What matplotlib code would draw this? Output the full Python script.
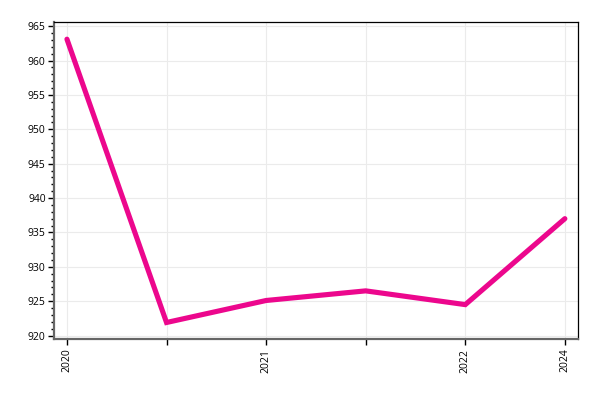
import numpy as np
import matplotlib.pyplot as plt
from matplotlib.ticker import MultipleLocator

plt.rcParams['font.family'] = ['Open Sans', 'DejaVu Sans']

# data
x_labels = ['2020', '', '2021', '', '2022', '2024']
values = [963.1, 921.9, 925.1, 926.5, 924.5, 937.0]
y_ticks = [920, 925, 930, 935, 940, 945, 950, 955, 960, 965]

fig = plt.figure(figsize=(6, 4), dpi=100)
ax = fig.add_axes([0.09, 0.1525, 0.873, 0.7925])

x = np.arange(len(values))
ax.plot(x, values, color='#EC078D', linewidth=3.7, solid_capstyle='round',
        solid_joinstyle='miter', zorder=3)

ax.set_xlim(-0.13, len(values) - 1 + 0.13)
ax.set_ylim(919.5, 965.6)
ax.set_xticks(x)
ax.set_xticklabels(x_labels, rotation=90, fontsize=7.5)
ax.set_yticks(y_ticks)
ax.yaxis.set_minor_locator(MultipleLocator(1))
ax.tick_params(axis='y', labelsize=7.5, length=4, width=1, pad=2)
ax.tick_params(axis='y', which='minor', length=2, width=1)
ax.tick_params(axis='x', length=4, width=1, pad=3)

ax.grid(True, color='#EBEBEB', linewidth=0.8, zorder=0)

for side in ['left', 'bottom']:
    ax.spines[side].set_color('#666666')
    ax.spines[side].set_linewidth(1.6)
for side in ['top', 'right']:
    ax.spines[side].set_color('black')
    ax.spines[side].set_linewidth(0.9)

fig.savefig('out.png', dpi=100)
